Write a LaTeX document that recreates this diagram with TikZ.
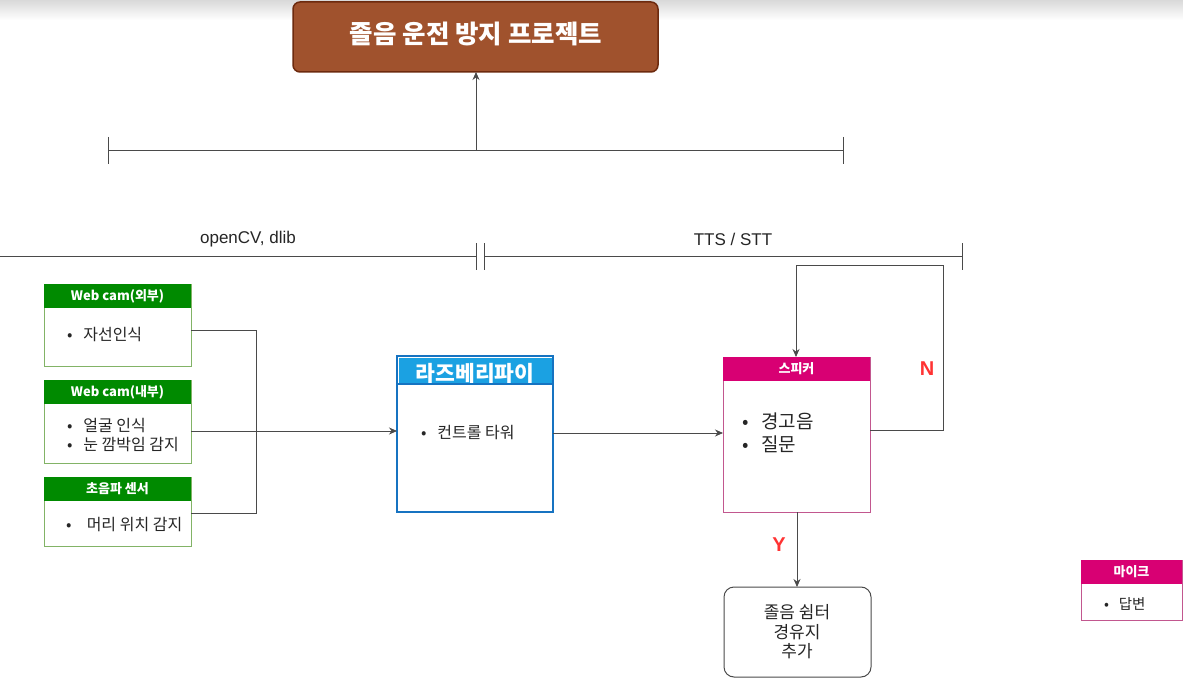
\documentclass[tikz,border=0pt]{standalone}
\usepackage{fontspec}
\setmainfont{Liberation Sans}
\newfontfamily\kr{Noto Sans CJK KR}
\usetikzlibrary{arrows.meta}
\definecolor{title}{HTML}{A0522D}
\definecolor{titleb}{HTML}{6D2A0E}
\definecolor{grn}{HTML}{008A00}
\definecolor{grnb}{HTML}{82B366}
\definecolor{blu}{HTML}{1BA1E2}
\definecolor{blub}{HTML}{1673C1}
\definecolor{mag}{HTML}{D80073}
\definecolor{magb}{HTML}{C2578F}
\definecolor{ln}{HTML}{4A4A4A}
\definecolor{yn}{HTML}{FF3333}
\tikzset{
  line/.style={draw=ln, line width=0.8pt},
  arr/.style={line, -{Stealth[length=8pt,width=7pt]}},
  body/.style={anchor=north west, inner sep=0pt, outer sep=0pt},
  hdr/.style={anchor=north west, inner sep=0pt, outer sep=0pt, text=white, font=\kr\bfseries\fontsize{13}{15}\selectfont},
  txt/.style={font=\kr\fontsize{16}{19}\selectfont, align=left, text=black!85, inner sep=0pt},
  yno/.style={text=yn, font=\bfseries\fontsize{20}{24}\selectfont},
}
\begin{document}
\begin{tikzpicture}[x=1pt,y=-1pt]
\useasboundingbox (0,0) rectangle (1183,679);
\fill[white] (0,0) rectangle (1183,679);
\shade[top color=black!15, bottom color=white] (0,0) rectangle (1183,20);

% title
\node[body, draw=titleb, fill=title, line width=1.5pt, rounded corners=7pt,
      minimum width=365pt, minimum height=70pt] (title) at (293,2) {};
\node[text=white, font=\kr\bfseries\fontsize{25.5}{30}\selectfont] (titletxt) at (476,34) {졸음 운전 방지 프로젝트};

% top bracket
\coordinate (tl) at (108,150);
\coordinate (tm) at (476,150);
\coordinate (tr) at (843,150);
\draw[line] (tl) -- (tr);
\draw[line] (108,137) -- (108,164);
\draw[line] (843,137) -- (843,164);
\draw[arr] (tm) -- (title.south -| tm);

% second row brackets
\draw[line] (0,256) -- (476,256);
\draw[line] (476,243) -- (476,270);
\draw[line] (484,243) -- (484,270);
\draw[line] (484,256) -- (962,256);
\draw[line] (962,243) -- (962,270);
\node[font=\fontsize{17}{20}\selectfont, text=black!85] (lab1) at (248,239) {openCV, dlib};
\node[font=\fontsize{17}{20}\selectfont, text=black!85] (lab2) at (733,239) {TTS / STT};

% Web cam (outer)
\node[body, draw=grnb, line width=1pt, minimum width=147pt, minimum height=82pt] (b1) at (44,284) {};
\node[hdr, fill=grn, minimum width=147pt, minimum height=24pt] (h1) at (44,284) {Web cam(외부)};
\node[txt, anchor=west] (t1) at (67,335) {•\;\, 자선인식};

% Web cam (inner)
\node[body, draw=grnb, line width=1pt, minimum width=147pt, minimum height=83pt] (b2) at (44,380) {};
\node[hdr, fill=grn, minimum width=147pt, minimum height=24pt] (h2) at (44,380) {Web cam(내부)};
\node[txt, anchor=west] (t2) at (67,435) {•\;\, 얼굴 인식\\•\;\, 눈 깜박임 감지};

% ultrasonic
\node[body, draw=grnb, line width=1pt, minimum width=147pt, minimum height=69pt] (b3) at (44,477) {};
\node[hdr, fill=grn, minimum width=147pt, minimum height=24pt] (h3) at (44,477) {초음파 센서};
\node[txt, anchor=west] (t3) at (66,525) {•\;\;\, 머리 위치 감지};

% raspberry pi
\node[body, draw=blub, fill=white, line width=2.5pt, minimum width=156pt, minimum height=156pt] (rp) at (397,356) {};
\node[body, fill=blu, minimum width=153pt, minimum height=26pt] (rph) at (398.5,357.5) {};
\node[text=white, inner sep=0pt, font=\kr\bfseries\fontsize{21.5}{24}\selectfont] (rpht) at (475,373) {라즈베리파이};
\draw[blub, line width=2.5pt] (397,384) -- (553,384);
\node[txt, anchor=west] (rpt) at (421,433) {•\;\, 컨트롤 타워};

% speaker
\node[body, draw=magb, line width=1pt, minimum width=147pt, minimum height=155pt] (sp) at (723,357) {};
\node[hdr, fill=mag, minimum width=147pt, minimum height=24pt] (sph) at (723,357) {스피커};
\node[txt, anchor=west, font=\kr\fontsize{19}{23}\selectfont] (spt) at (742,433) {•\;\, 경고음\\•\;\, 질문};

% result
\node[body, draw=ln, line width=1pt, rounded corners=10pt, minimum width=147pt, minimum height=90pt] (res) at (724,587) {};
\node[txt, align=center, font=\kr\fontsize{17}{19.5}\selectfont] (rest) at (797,632) {졸음 쉼터\\경유지\\추가};

% mic
\node[body, draw=magb, line width=1pt, minimum width=101pt, minimum height=60pt] (mic) at (1081,560) {};
\node[hdr, fill=mag, minimum width=101pt, minimum height=24pt] (mich) at (1081,560) {마이크};
\node[txt, anchor=west, font=\kr\fontsize{14.5}{17}\selectfont] (mict) at (1104,604) {•\;\, 답변};

% connectors
\coordinate (j1) at (256,330);
\coordinate (j3) at (256,513);
\draw[line] (b1.east |- j1) -- (j1) -- (j3) -- (b3.east |- j3);
\draw[arr] (b2.east |- 0,431) -- (rp.west |- 0,431);
\draw[arr] (rp.east |- 0,433) -- (sp.west |- 0,433);
\coordinate (n1) at (943,430);
\coordinate (n2) at (943,265);
\coordinate (n3) at (796,265);
\draw[line] (sp.east |- n1) -- (n1) -- (n2) -- (n3);
\draw[arr] (n3) -- (sp.north -| n3);
\draw[arr] (sp.south -| 797,0) -- (res.north -| 797,0);
\node[yno] (nl) at (927,369) {N};
\node[yno] (yl) at (779,545) {Y};
\end{tikzpicture}
\end{document}
